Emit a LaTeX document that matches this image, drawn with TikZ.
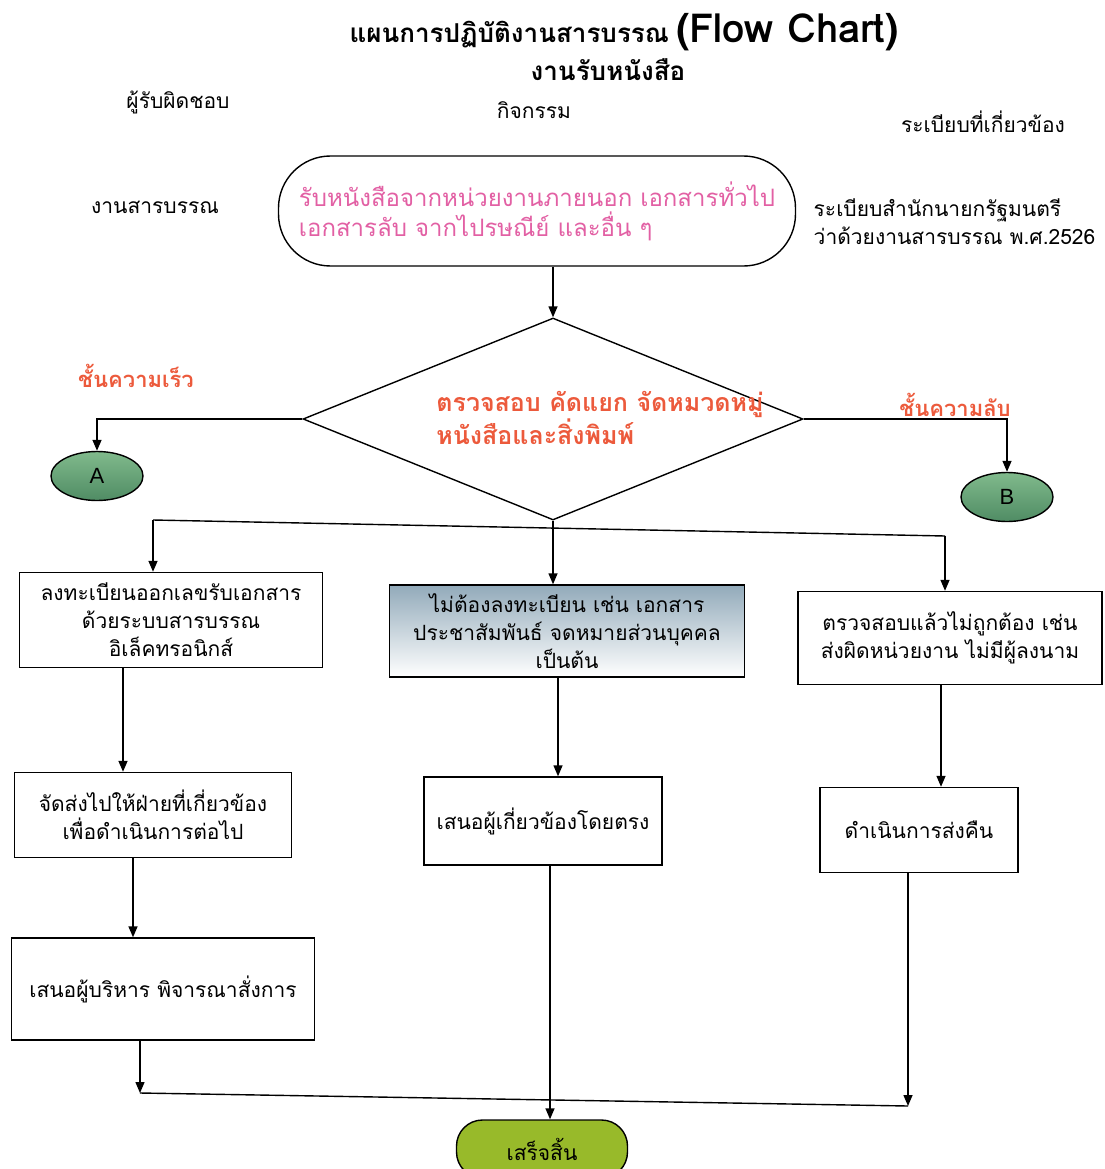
\documentclass[tikz,border=0pt]{standalone}
\usepackage{fontspec}
\setmainfont{Liberation Sans}
\newfontfamily\thaifont[Script=Thai]{Loma}
\usetikzlibrary{arrows.meta,shapes.geometric}
\definecolor{chompoo}{RGB}{226,96,164}
\definecolor{somdaeng}{RGB}{236,90,60}
\definecolor{khiaw}{RGB}{128,186,140}
\definecolor{khiawmuet}{RGB}{80,140,100}
\definecolor{khiawon}{RGB}{152,186,42}
\definecolor{fahmon}{RGB}{146,170,186}
\begin{document}
\begin{tikzpicture}[
        x=1pt, y=-1pt,
        >={Triangle[length=11pt,width=9pt]},
        line width=1.4pt,
        every node/.style={font=\thaifont\fontsize{21}{28}\selectfont, inner sep=0pt},
        box/.style={draw, rectangle, align=center},
        orangetext/.style={text=somdaeng, font=\thaifont\bfseries\fontsize{22}{28}\selectfont, align=left},
        connector/.style={draw, ellipse, minimum width=92pt, minimum height=49pt,
            top color=khiaw, bottom color=khiawmuet, font=\fontsize{22}{26}\selectfont}
    ]
        \useasboundingbox (0,0) rectangle (1104,1169);

        % หัวเรื่อง
        \node (title) at (624,32) {{\thaifont\bfseries\fontsize{26}{36}\selectfont แผนการปฏิบัติงานสารบรรณ} {\bfseries\fontsize{40}{44}\selectfont (Flow Chart)}};
        \node [font=\thaifont\bfseries\fontsize{26}{30}\selectfont] (subtitle) at (608,70) {งานรับหนังสือ};
        \node (owner) at (178,102) {ผู้รับผิดชอบ};
        \node (activity) at (534,110) {กิจกรรม};
        \node (rules) at (983,122) {ระเบียบที่เกี่ยวข้อง};
        \node (unit) at (155,207) {งานสารบรรณ};
        \node [align=left, anchor=west] (rulestxt) at (813,222) {ระเบียบสำนักนายกรัฐมนตรี\\ว่าด้วยงานสารบรรณ พ.ศ.2526};

        % เริ่มต้น
        \node [draw, rounded corners=52pt, minimum width=517pt, minimum height=110pt,
            text=chompoo, align=left, font=\thaifont\fontsize{24}{30}\selectfont] (start) at (537,211)
            {รับหนังสือจากหน่วยงานภายนอก เอกสารทั่วไป\\เอกสารลับ จากไปรษณีย์ และอื่น ๆ};

        % ตรวจสอบ
        \node [draw, diamond, minimum width=500pt, minimum height=202pt] (check) at (553,419) {};
        \node [orangetext, font=\thaifont\bfseries\fontsize{25}{28}\selectfont] (checktxt) at (600,418) {ตรวจสอบ คัดแยก จัดหมวดหมู่\\หนังสือและสิ่งพิมพ์};
        \node [orangetext] (fast) at (136,376) {ชั้นความเร็ว};
        \node [orangetext] (secret) at (955,405) {ชั้นความลับ};
        \node [connector] (A) at (97,476) {A};
        \node [connector] (B) at (1007,497) {B};

        % กล่องงาน
        \node [box, minimum width=303pt, minimum height=95pt] (reg) at (171,620)
            {ลงทะเบียนออกเลขรับเอกสาร\\ด้วยระบบสารบรรณ\\อิเล็คทรอนิกส์};
        \node [box, minimum width=355pt, minimum height=92pt, top color=fahmon, bottom color=white] (noreg) at (567,631)
            {ไม่ต้องลงทะเบียน เช่น เอกสาร\\ประชาสัมพันธ์ จดหมายส่วนบุคคล\\เป็นต้น};
        \node [box, minimum width=304pt, minimum height=93pt] (wrong) at (950,638)
            {ตรวจสอบแล้วไม่ถูกต้อง เช่น\\ส่งผิดหน่วยงาน ไม่มีผู้ลงนาม};
        \node [box, minimum width=277pt, minimum height=85pt] (send) at (153,815)
            {จัดส่งไปให้ฝ่ายที่เกี่ยวข้อง\\เพื่อดำเนินการต่อไป};
        \node [box, minimum width=238pt, minimum height=88pt] (direct) at (543,821)
            {เสนอผู้เกี่ยวข้องโดยตรง};
        \node [box, minimum width=198pt, minimum height=85pt] (return) at (919,830)
            {ดำเนินการส่งคืน};
        \node [box, minimum width=303pt, minimum height=102pt] (boss) at (163,989)
            {เสนอผู้บริหาร พิจารณาสั่งการ};
        \node [draw, rounded corners=26pt, minimum width=171pt, minimum height=58pt,
            fill=khiawon] (done) at (542,1149) {เสร็จสิ้น};

        % จุดแยก
        \coordinate (splitL) at (153,520);
        \coordinate (splitR) at (945,536);
        \coordinate (joinL) at (140,1093);
        \coordinate (joinR) at (908,1106);

        % เส้นเชื่อม
        \draw[->] (start.south -| check.north) -- (check.north);
        \draw[->] (check.west) -| (A.north);
        \draw[->] (check.east) -| (B.north);
        \draw (splitL) -- (splitR);
        \draw[->] (splitL) -- (splitL |- reg.north);
        \draw[->] (check.south) -- (check.south |- noreg.north);
        \draw[->] (splitR) -- (splitR |- wrong.north);
        \draw[->] ([xshift=-48pt]reg.south) -- ([xshift=-30pt]send.north);
        \draw[->] ([xshift=-9pt]noreg.south) -- ([xshift=15pt]direct.north);
        \draw[->] ([xshift=-9pt]wrong.south) -- ([xshift=22pt]return.north);
        \draw[->] ([xshift=-20pt]send.south) -- ([xshift=-30pt]boss.north);
        \draw[->] ([xshift=-23pt]boss.south) -- (joinL);
        \draw (joinL) -- (joinR);
        \draw[->] ([xshift=-11pt]return.south) -- (joinR);
        \draw[->] ([xshift=7pt]direct.south) -- ([xshift=8pt]done.north);
    \end{tikzpicture}
\end{document}
